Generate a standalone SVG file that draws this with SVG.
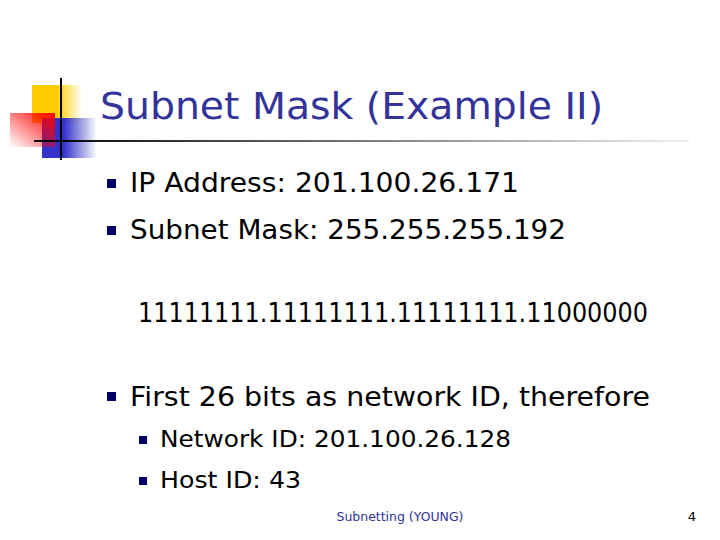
<svg xmlns="http://www.w3.org/2000/svg" width="720" height="540" viewBox="0 0 720 540">
<defs>
<linearGradient id="yel" x1="0" y1="0" x2="1" y2="0"><stop offset="0.5" stop-color="#ffcc00"/><stop offset="1" stop-color="#ffcc00" stop-opacity="0"/></linearGradient>
<linearGradient id="red" x1="1" y1="0" x2="0" y2="1"><stop offset="0" stop-color="#ff0000"/><stop offset="1" stop-color="#ff0000" stop-opacity="0"/></linearGradient>
<linearGradient id="blu" x1="0" y1="0" x2="1" y2="0"><stop offset="0.4" stop-color="#3333cc"/><stop offset="1" stop-color="#3333cc" stop-opacity="0"/></linearGradient>
<linearGradient id="ln" x1="0" y1="0" x2="1" y2="0"><stop offset="0" stop-color="#000"/><stop offset="1" stop-color="#000" stop-opacity="0.05"/></linearGradient>
<style>
text{font-family:"DejaVu Sans",Verdana,sans-serif;}
.t{font-size:26px;fill:#000}
.s{font-size:23px;fill:#000}
.b{fill:#000066}
</style>
</defs>
<g id="logo">
<rect x="32" y="85" width="50" height="38" fill="url(#yel)"/>
<rect x="42" y="118" width="55" height="40" fill="url(#blu)"/>
<rect x="10" y="113" width="45" height="34" fill="url(#red)"/>
<line x1="61" y1="78" x2="61" y2="160" stroke="#000" stroke-width="2"/>
<rect x="34" y="140" width="656" height="2" fill="url(#ln)"/>
</g>
<text id="title" x="100" y="119" font-size="38" fill="#333399" textLength="503" lengthAdjust="spacingAndGlyphs">Subnet Mask (Example II)</text>
<g id="body">
<rect class="b" x="107" y="179" width="9" height="9"/>
<text class="t" x="130" y="192" textLength="389" lengthAdjust="spacingAndGlyphs">IP Address: 201.100.26.171</text>
<rect class="b" x="107" y="226" width="9" height="9"/>
<text class="t" x="130" y="239" textLength="436" lengthAdjust="spacingAndGlyphs">Subnet Mask: 255.255.255.192</text>
<text class="t" x="138" y="322" textLength="510" lengthAdjust="spacingAndGlyphs">11111111.11111111.11111111.11000000</text>
<rect class="b" x="107" y="392" width="9" height="9"/>
<text class="t" x="130" y="406" textLength="520" lengthAdjust="spacingAndGlyphs">First 26 bits as network ID, therefore</text>
<rect class="b" x="139" y="436" width="8" height="8"/>
<text class="s" x="160" y="447" textLength="351" lengthAdjust="spacingAndGlyphs">Network ID: 201.100.26.128</text>
<rect class="b" x="139" y="477" width="8" height="8"/>
<text class="s" x="160" y="488" textLength="141" lengthAdjust="spacingAndGlyphs">Host ID: 43</text>
<text x="400" y="521" font-size="13" text-anchor="middle" fill="#333399" textLength="127" lengthAdjust="spacingAndGlyphs">Subnetting (YOUNG)</text>
<text x="692" y="521" font-size="13" text-anchor="middle" fill="#000">4</text>
</g>
</svg>
